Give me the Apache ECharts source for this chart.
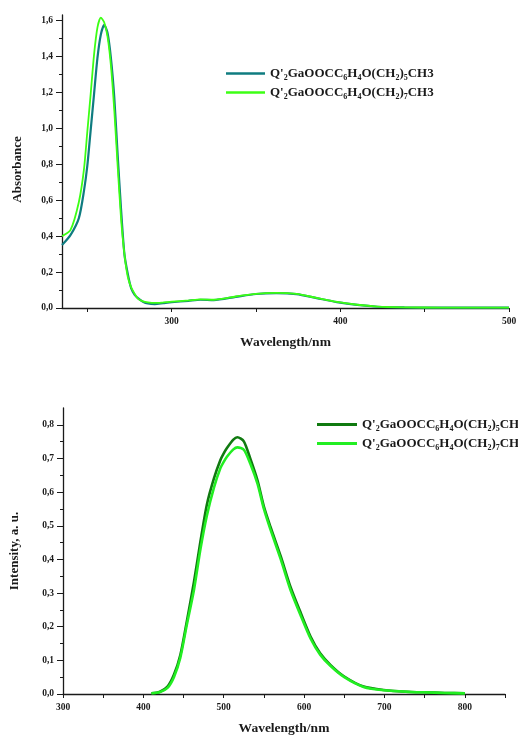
<!DOCTYPE html>
<html>
<head>
<meta charset="utf-8">
<script src="https://cdn.jsdelivr.net/npm/echarts@6/dist/echarts.min.js"></script>
<style>
html, body { margin: 0; padding: 0; background: #fff; }
#chart { width: 518px; height: 735px; }
</style>
</head>
<body>
<div id="chart"></div>
<script>
// absorption spectra (top)
const absWl = [235, 240, 245, 248, 250, 252, 254, 256, 258, 260, 262, 264, 266, 268, 270, 272, 274, 276, 278, 280, 283, 286, 290, 295, 300, 310, 317, 325, 338, 350, 362, 374, 386, 398, 410, 422, 438, 460, 500];
const absC5 = [0.35, 0.405, 0.50, 0.65, 0.79, 0.99, 1.19, 1.39, 1.52, 1.575, 1.53, 1.39, 1.17, 0.85, 0.55, 0.30, 0.19, 0.11, 0.075, 0.055, 0.035, 0.025, 0.022, 0.027, 0.032, 0.040, 0.046, 0.044, 0.062, 0.078, 0.083, 0.077, 0.055, 0.033, 0.017, 0.007, 0.003, 0.002, 0.002];
const absC7 = [0.40, 0.433, 0.59, 0.77, 0.98, 1.19, 1.41, 1.56, 1.615, 1.59, 1.51, 1.35, 1.10, 0.79, 0.50, 0.30, 0.174, 0.115, 0.08, 0.052, 0.037, 0.031, 0.028, 0.031, 0.035, 0.042, 0.048, 0.046, 0.064, 0.079, 0.084, 0.078, 0.056, 0.034, 0.018, 0.008, 0.004, 0.002, 0.002];

// emission spectra (bottom)
const emWl = [410, 420, 430, 438, 446, 454, 463, 471, 479, 488, 496, 500, 504, 512, 517, 525, 533, 542, 550, 558, 571, 583, 596, 608, 620, 633, 650, 674, 699, 733, 749, 775, 800];
const emC5 = [0.002, 0.006, 0.022, 0.057, 0.116, 0.215, 0.334, 0.453, 0.5625, 0.642, 0.696, 0.715, 0.731, 0.756, 0.763, 0.751, 0.70, 0.635, 0.557, 0.498, 0.409, 0.319, 0.24, 0.171, 0.121, 0.086, 0.052, 0.022, 0.012, 0.006, 0.005, 0.003, 0.002];
const emC7 = [0.002, 0.005, 0.018, 0.05, 0.108, 0.205, 0.31, 0.43, 0.53, 0.615, 0.672, 0.69, 0.705, 0.727, 0.733, 0.726, 0.685, 0.625, 0.55, 0.49, 0.40, 0.31, 0.232, 0.165, 0.117, 0.083, 0.05, 0.021, 0.011, 0.006, 0.005, 0.003, 0.002];

const absXLabels = [300, 400, 500];
const absXTicks = [250, 300, 350, 400, 450, 500];
const absYLabels = [0, 0.2, 0.4, 0.6, 0.8, 1.0, 1.2, 1.4, 1.6];
const absYMinor = [0.1, 0.3, 0.5, 0.7, 0.9, 1.1, 1.3, 1.5];
const emXLabels = [300, 400, 500, 600, 700, 800];
const emXTicks = [300, 350, 400, 450, 500, 550, 600, 650, 700, 750, 800, 850];
const emYLabels = [0, 0.1, 0.2, 0.3, 0.4, 0.5, 0.6, 0.7, 0.8];
const emYMinor = [0.05, 0.15, 0.25, 0.35, 0.45, 0.55, 0.65, 0.75];

const nameC5 = "Q'2GaOOCC6H4O(CH2)5CH3";
const nameC7 = "Q'2GaOOCC6H4O(CH2)7CH3";

const FONT = 'Liberation Serif';
const INK = '#1a1a1a';

function pairs(xs, ys) { return xs.map((x, i) => [x, ys[i]]); }
function comma(v) { return v.toFixed(1).replace('.', ','); }

// subscripts in the legend names
function legendFmt(name) {
  const n = name.trim() === nameC5 ? '5' : '7';
  return "{b|Q'}{s|2}{b|GaOOCC}{s|6}{b|H}{s|4}{b|O(CH}{s|2}{b|)}{s|" + n + "}{b|CH3}";
}
const legendRich = {
  b: { fontFamily: FONT, fontWeight: 'bold', fontSize: 13, color: INK, lineHeight: 17, verticalAlign: 'middle' },
  s: { fontFamily: FONT, fontWeight: 'bold', fontSize: 8, color: INK, lineHeight: 8, verticalAlign: 'bottom' }
};

function xAxisOf(grid, min, max, labels, ticks) {
  return {
    type: 'value', gridIndex: grid, min: min, max: max,
    axisLine: { show: true, lineStyle: { color: INK, width: 1.3 } },
    axisTick: { show: true, customValues: ticks, length: 4, lineStyle: { color: INK } },
    axisLabel: { customValues: labels, fontFamily: FONT, fontWeight: 'bold', fontSize: 9.5, color: INK, margin: 9 },
    splitLine: { show: false },
    name: 'Wavelength/nm', nameLocation: 'middle', nameGap: 28,
    nameTextStyle: { fontFamily: FONT, fontWeight: 'bold', fontSize: 13.5, color: INK }
  };
}
function yAxisOf(grid, max, labels, name, gap, pad) {
  return {
    type: 'value', gridIndex: grid, position: 'left', min: 0, max: max,
    axisLine: { show: true, lineStyle: { color: INK, width: 1.3 } },
    axisTick: { show: true, customValues: labels, length: 6, lineStyle: { color: INK } },
    axisLabel: { customValues: labels, formatter: comma, fontFamily: FONT, fontWeight: 'bold', fontSize: 9.5, color: INK, margin: 9 },
    splitLine: { show: false },
    name: name, nameLocation: 'middle', nameGap: gap,
    nameTextStyle: { fontFamily: FONT, fontWeight: 'bold', fontSize: 13, color: INK, padding: [0, pad, 0, 0] }
  };
}
function minorAxisOf(grid, max, ticks) {
  return {
    type: 'value', gridIndex: grid, position: 'left', min: 0, max: max,
    axisLine: { show: false },
    axisTick: { show: true, customValues: ticks, length: 3, lineStyle: { color: INK } },
    axisLabel: { show: false },
    splitLine: { show: false }
  };
}
function lineOf(name, xi, yi, data, color, width) {
  return {
    name: name, type: 'line', xAxisIndex: xi, yAxisIndex: yi,
    data: data, showSymbol: false, symbol: 'none',
    smooth: 0.25,
    lineStyle: { color: color, width: width }, itemStyle: { color: color }
  };
}

let mychart = echarts.init(document.getElementById('chart'));
mychart.setOption({
  animation: false,
  backgroundColor: '#fff',
  grid: [
    { left: 62, right: 9, top: 15, bottom: 427, outerBoundsMode: 'none' },
    { left: 63, right: 13, top: 408, bottom: 41, outerBoundsMode: 'none' }
  ],
  legend: [
    {
      data: [nameC5, nameC7], orient: 'vertical', left: 226, top: 67, padding: 0,
      icon: 'rect', itemWidth: 39, itemHeight: 2.5, itemGap: 4,
      formatter: legendFmt, textStyle: { rich: legendRich }
    },
    {
      data: [nameC5 + ' ', nameC7 + ' '], orient: 'vertical', left: 317, top: 418, padding: 0,
      icon: 'rect', itemWidth: 40, itemHeight: 3, itemGap: 4,
      formatter: legendFmt, textStyle: { rich: legendRich }
    }
  ],
  xAxis: [
    xAxisOf(0, 235, 500, absXLabels, absXTicks),
    xAxisOf(1, 300, 850, emXLabels, emXTicks)
  ],
  yAxis: [
    yAxisOf(0, 1.63, absYLabels, 'Absorbance', 38, 16),
    minorAxisOf(0, 1.63, absYMinor),
    yAxisOf(1, 0.85, emYLabels, 'Intensity, a. u.', 42, 0),
    minorAxisOf(1, 0.85, emYMinor)
  ],
  series: [
    lineOf(nameC5, 0, 0, pairs(absWl, absC5), '#0f7c80', 2.2),
    lineOf(nameC7, 0, 0, pairs(absWl, absC7), '#3cff14', 1.8),
    lineOf(nameC5 + ' ', 1, 2, pairs(emWl, emC5), '#107a10', 2.6),
    lineOf(nameC7 + ' ', 1, 2, pairs(emWl, emC7), '#22ee22', 2.6)
  ]
});
</script>
</body>
</html>
